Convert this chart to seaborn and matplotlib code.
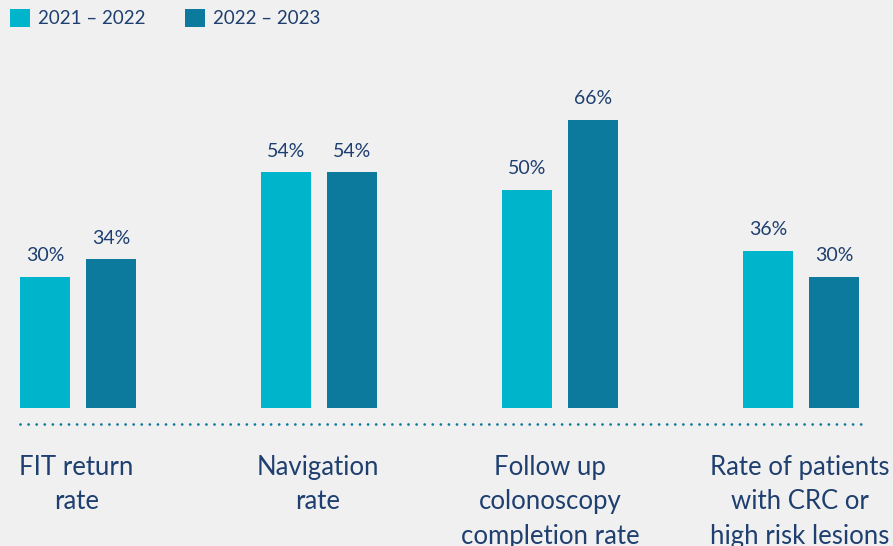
import matplotlib
matplotlib.use("Agg")
import matplotlib.pyplot as plt
import seaborn as sns
import pandas as pd

# Chart data
categories = ["FIT return\nrate", "Navigation\nrate",
              "Follow up\ncolonoscopy\ncompletion rate",
              "Rate of patients\nwith CRC or\nhigh risk lesions"]
periods = ["2021 – 2022", "2022 – 2023"]
values_2021_2022 = [30, 54, 50, 36]
values_2022_2023 = [34, 54, 66, 30]

df = pd.DataFrame({
    "category": categories * 2,
    "period": [periods[0]] * 4 + [periods[1]] * 4,
    "value": values_2021_2022 + values_2022_2023,
})

BG = "#F0F0F0"
LIGHT = "#00B4CC"
DARK = "#0C7A9C"
TEXT = "#1E3F6F"

sns.set_theme(style="white")
plt.rcParams["font.family"] = ["Lato", "DejaVu Sans"]

fig = plt.figure(figsize=(8.93, 5.46), dpi=100, facecolor=BG)
ax = fig.add_axes([0, 0, 1, 1])
ax.set_facecolor(BG)

sns.barplot(data=df, x="category", y="value", hue="period",
            palette=[LIGHT, DARK], width=0.548, gap=0.243,
            saturation=1, linewidth=0, ax=ax, legend=True)

ax.set_xlim(-0.3237, 3.382)
ax.set_ylim(-31.6, 93.4)
ax.axis("off")

# value labels on top of each bar
for cont in ax.containers:
    ax.bar_label(cont, labels=[f"{v:.0f}%" for v in cont.datavalues],
                 padding=9, fontsize=14, color=TEXT)

# dotted baseline under the bars
ax.plot([-0.24, 3.25], [-3.7, -3.7], color=DARK, lw=2,
        linestyle=(0, (0.01, 2.9)), dash_capstyle="round")

# category labels below the baseline (small horizontal nudges per label)
nudges = [-0.006, -0.004, -0.04, -0.006]
for i, cat in enumerate(categories):
    ax.text(i + nudges[i], -10.7, cat, ha="center", va="top", fontsize=18.5,
            color=TEXT, linespacing=1.47)

# legend at top left
handles, labels = ax.get_legend_handles_labels()
ax.legend(handles, labels, ncol=2, loc="upper left",
          bbox_to_anchor=(10 / 893, 1 - 9 / 546), bbox_transform=fig.transFigure,
          frameon=False, fontsize=13.5, handlelength=1.07, handleheight=1.07,
          handletextpad=0.43, columnspacing=2.1, borderpad=0, borderaxespad=0,
          labelcolor=TEXT)

fig.savefig("out.png", dpi=100, facecolor=BG)
